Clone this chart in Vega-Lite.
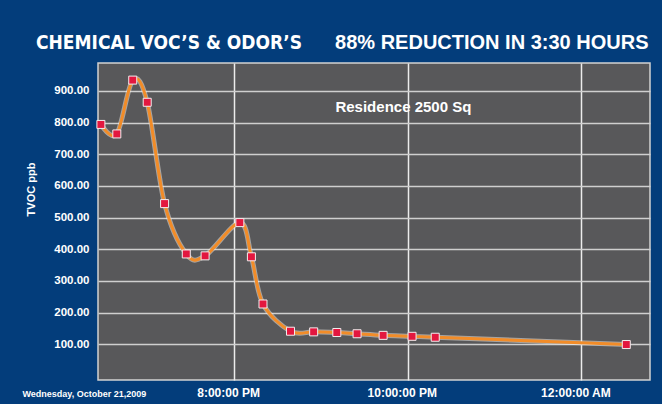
{
  "$schema": "https://vega.github.io/schema/vega-lite/v6.json",
  "autosize": {"type": "none"},
  "width": 552,
  "height": 317,
  "padding": {"left": 98, "top": 63, "right": 12, "bottom": 24},
  "background": "#033d7b",
  "title": {
    "text": "CHEMICAL VOC’S & ODOR’S",
    "anchor": "start",
    "frame": "group",
    "orient": "top",
    "dx": -62,
    "offset": -21,
    "color": "#ffffff",
    "font": "DejaVu Sans Condensed",
    "fontSize": 19,
    "fontWeight": "bold"
  },
  "datasets": {
    "readings": [
      {"t": "2009-10-21T18:28:00", "v": 794},
      {"t": "2009-10-21T18:39:00", "v": 764},
      {"t": "2009-10-21T18:50:00", "v": 934},
      {"t": "2009-10-21T19:00:00", "v": 864},
      {"t": "2009-10-21T19:12:00", "v": 544},
      {"t": "2009-10-21T19:27:00", "v": 385},
      {"t": "2009-10-21T19:40:00", "v": 379},
      {"t": "2009-10-21T20:04:00", "v": 484},
      {"t": "2009-10-21T20:12:00", "v": 376},
      {"t": "2009-10-21T20:20:00", "v": 227},
      {"t": "2009-10-21T20:39:00", "v": 141},
      {"t": "2009-10-21T20:55:00", "v": 139},
      {"t": "2009-10-21T21:11:00", "v": 137},
      {"t": "2009-10-21T21:25:00", "v": 133},
      {"t": "2009-10-21T21:43:00", "v": 128},
      {"t": "2009-10-21T22:03:00", "v": 125},
      {"t": "2009-10-21T22:19:00", "v": 122},
      {"t": "2009-10-22T00:31:00", "v": 99}
    ],
    "note": [
      {"t": "2009-10-21T21:57:00", "v": 849, "label": "Residence 2500 Sq"}
    ]
  },
  "layer": [
    {
      "data": {"name": "readings"},
      "mark": {"type": "line", "interpolate": "cardinal", "color": "#f4f0ea", "opacity": 0.5, "strokeWidth": 5},
      "encoding": {
        "x": {
          "field": "t", "type": "temporal",
          "scale": {"domain": [{"year": 2009, "month": 10, "date": 21, "hours": 18, "minutes": 26}, {"year": 2009, "month": 10, "date": 22, "hours": 0, "minutes": 47, "seconds": 23}], "nice": false},
          "axis": {
            "orient": "bottom",
            "values": [{"year": 2009, "month": 10, "date": 21, "hours": 20}, {"year": 2009, "month": 10, "date": 21, "hours": 22}, {"year": 2009, "month": 10, "date": 22, "hours": 0}],
            "format": "%-I:%M:%S %p",
            "grid": true, "gridColor": "#ececec", "gridWidth": 1.5, "gridOpacity": 1,
            "ticks": false, "domain": false,
            "labelColor": "#ffffff", "labelFont": "Liberation Sans", "labelFontSize": 12, "labelFontWeight": "bold",
            "labelPadding": 7, "labelBaseline": "top", "labelOffset": -6,
            "title": "Wednesday, October 21,2009",
            "titleColor": "#ffffff", "titleFont": "Liberation Sans", "titleFontSize": 9, "titleFontWeight": "bold",
            "titleAnchor": "start", "titleAlign": "left", "titleBaseline": "alphabetic",
            "titleX": -76, "titleY": 16
          }
        },
        "y": {
          "field": "v", "type": "quantitative",
          "scale": {"domain": [-13, 988], "nice": false, "zero": false},
          "axis": {
            "orient": "left",
            "values": [100, 200, 300, 400, 500, 600, 700, 800, 900],
            "format": ".2f",
            "grid": true, "gridColor": "#cfcfcf", "gridWidth": 1.5, "gridOpacity": 1,
            "ticks": false, "domain": false,
            "labelColor": "#ffffff", "labelFont": "Liberation Sans", "labelFontSize": 11.5, "labelFontWeight": "bold",
            "labelPadding": 9,
            "title": "TVOC ppb",
            "titleColor": "#ffffff", "titleFont": "Liberation Sans", "titleFontSize": 11, "titleFontWeight": "bold",
            "titleBaseline": "middle", "titleX": -67, "titleY": 126
          }
        }
      }
    },
    {
      "data": {"name": "readings"},
      "mark": {"type": "line", "interpolate": "cardinal", "color": "#f28c28", "strokeWidth": 3},
      "encoding": {
        "x": {
          "field": "t", "type": "temporal",
          "scale": {"domain": [{"year": 2009, "month": 10, "date": 21, "hours": 18, "minutes": 26}, {"year": 2009, "month": 10, "date": 22, "hours": 0, "minutes": 47, "seconds": 23}], "nice": false},
          "axis": {
            "orient": "top",
            "labels": false, "ticks": false, "domain": false, "grid": false,
            "title": "88% REDUCTION IN 3:30 HOURS",
            "titleColor": "#ffffff", "titleFont": "Liberation Sans", "titleFontSize": 20, "titleFontWeight": "bold",
            "titleAnchor": "end", "titleAlign": "right", "titleBaseline": "alphabetic",
            "titleX": 550, "titleY": -15
          }
        },
        "y": {
          "field": "v", "type": "quantitative",
          "scale": {"domain": [-13, 988], "nice": false, "zero": false},
          "axis": null
        }
      }
    },
    {
      "data": {"name": "readings"},
      "mark": {"type": "point", "shape": "square", "filled": true, "fill": "#e3173f", "stroke": "#f2eeee", "strokeWidth": 1, "size": 64, "opacity": 1},
      "encoding": {
        "x": {
          "field": "t", "type": "temporal",
          "scale": {"domain": [{"year": 2009, "month": 10, "date": 21, "hours": 18, "minutes": 26}, {"year": 2009, "month": 10, "date": 22, "hours": 0, "minutes": 47, "seconds": 23}], "nice": false},
          "axis": null
        },
        "y": {
          "field": "v", "type": "quantitative",
          "scale": {"domain": [-13, 988], "nice": false, "zero": false},
          "axis": null
        }
      }
    },
    {
      "data": {"name": "note"},
      "mark": {"type": "text", "color": "#ffffff", "font": "Liberation Sans", "fontSize": 15, "fontWeight": "bold", "align": "center", "baseline": "middle"},
      "encoding": {
        "x": {
          "field": "t", "type": "temporal",
          "scale": {"domain": [{"year": 2009, "month": 10, "date": 21, "hours": 18, "minutes": 26}, {"year": 2009, "month": 10, "date": 22, "hours": 0, "minutes": 47, "seconds": 23}], "nice": false},
          "axis": null
        },
        "y": {
          "field": "v", "type": "quantitative",
          "scale": {"domain": [-13, 988], "nice": false, "zero": false},
          "axis": null
        },
        "text": {"field": "label"}
      }
    }
  ],
  "resolve": {"axis": {"x": "independent", "y": "independent"}},
  "config": {
    "view": {"fill": "#58585a", "stroke": "#d2d2d2", "strokeWidth": 1.5}
  }
}
